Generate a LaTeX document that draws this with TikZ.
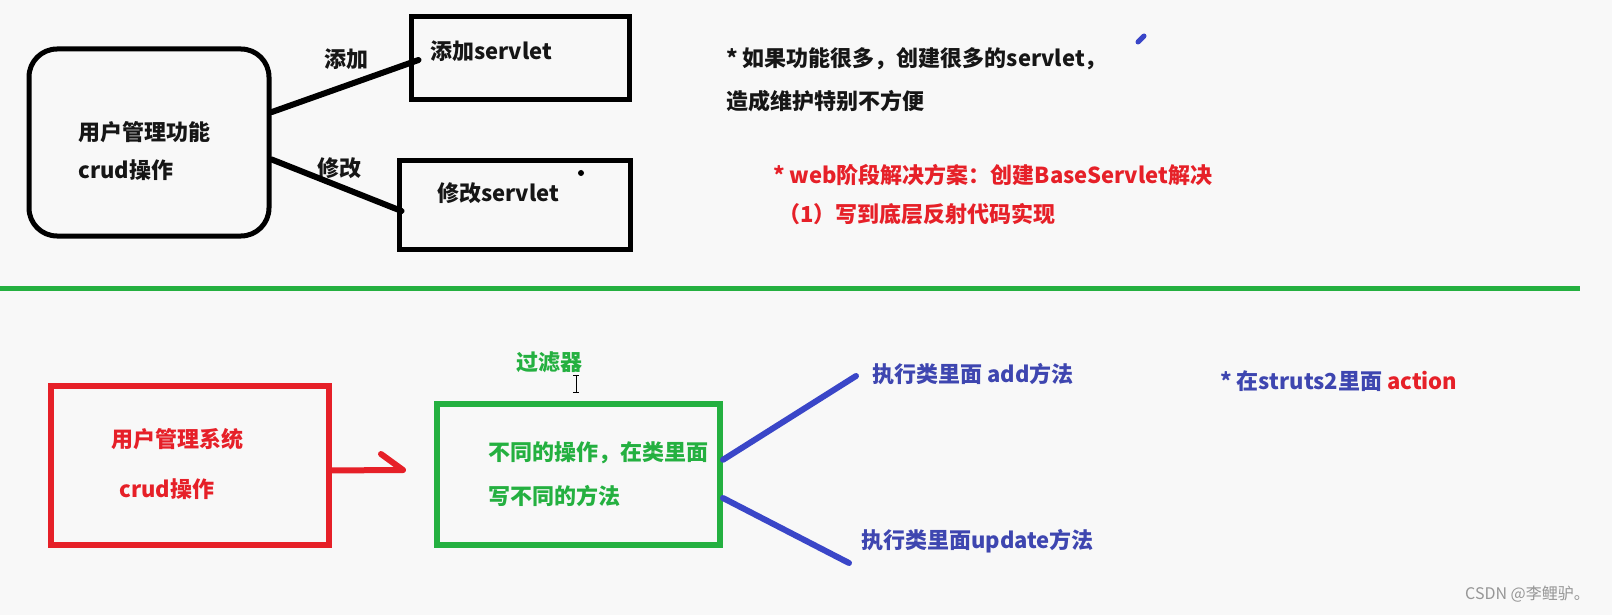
\documentclass[tikz,border=0pt]{standalone}
\usepackage{fontspec}
\usetikzlibrary{calc}
\newfontfamily\cjk{Noto Sans CJK SC}
\definecolor{bg}{RGB}{248,248,248}
\definecolor{myred}{RGB}{230,32,40}
\definecolor{mygreen}{RGB}{36,176,64}
\definecolor{myblue}{RGB}{58,70,200}
\definecolor{txtblue}{RGB}{62,70,176}
\definecolor{txtblack}{RGB}{22,22,22}
\definecolor{wmgray}{RGB}{150,150,150}
\begin{document}
\begin{tikzpicture}[x=1pt,y=-1pt,
  lbl/.style={font=\cjk\bfseries\fontsize{22}{26}\selectfont, inner sep=0pt, anchor=west, text=txtblack},
  ctr/.style={lbl, anchor=center},
  boxk/.style={draw=black, line width=5pt, inner sep=0pt, rectangle},
  boxr/.style={draw=myred, line width=6pt, inner sep=0pt, rectangle},
  boxg/.style={draw=mygreen, line width=6pt, inner sep=0pt, rectangle},
  wire/.style={line width=6pt, line cap=round},
  bwire/.style={draw=myblue, line width=6pt, line cap=round}]
\fill[bg] (0,0) rectangle (1612,615);
\useasboundingbox (0,0) rectangle (1612,615);

% ---------- top part ----------
\node[boxk, rounded corners=28pt, minimum width=240pt, minimum height=187pt] (crud) at (149,142.5) {};
\node[boxk, minimum width=218pt, minimum height=83pt] (addbox) at (520,58.5) {};
\node[boxk, minimum width=231pt, minimum height=88pt] (modbox) at (514.5,205) {};

\node[lbl] (t1) at (78,132) {用户管理功能};
\node[lbl] (t2) at (78,170) {crud操作};
\node[lbl] (addtxt) at (430,51) {添加servlet};
\node[lbl] (modtxt) at (437,193) {修改servlet};
\node[ctr] (addlbl) at (346,59) {添加};
\node[ctr] (modlbl) at (339,168) {修改};

\draw[wire] ($(crud.north east)!0.342!(crud.south east)$) -- ($(addbox.west)+(10,1.5)$);
\draw[wire] ($(crud.north east)!0.588!(crud.south east)$) -- ($(modbox.west)+(5,6)$);

\fill[black] (581,173) circle (3pt);
\draw[myblue, line width=5pt, line cap=round] (1138,42) -- (1144,36);

\node[lbl] (n1) at (726,59) {* 如果功能很多，创建很多的servlet，};
\node[lbl] (n2) at (726,101) {造成维护特别不方便};
\node[lbl, text=myred] (r1) at (773,175) {* web阶段解决方案：创建BaseServlet解决};
\node[lbl, text=myred] (r2) at (778,214) {（1）写到底层反射代码实现};

% ---------- separator ----------
\draw[mygreen, line width=5pt] (0,288) -- (1580,288);

% ---------- bottom part ----------
\node[boxr, minimum width=278pt, minimum height=159pt] (redbox) at (190,465.5) {};
\node[boxg, minimum width=283pt, minimum height=141pt] (greenbox) at (578.5,474.5) {};

\node[ctr, text=mygreen] (filter) at (549,362) {过滤器};
\draw[black, line width=0.9pt] (576,375) -- (576,392) (573,375) -- (579,375) (573,392) -- (579,392);

\node[lbl, text=myred] (rb1) at (111,439) {用户管理系统};
\node[lbl, text=myred] (rb2) at (119,489) {crud操作};
\node[lbl, text=mygreen] (gb1) at (488,453) {不同的操作，在类里面};
\node[lbl, text=mygreen] (gb2) at (488,496) {写不同的方法};

\coordinate (tip) at ($(greenbox.west)+(-31,-4.5)$);
\draw[myred, line width=6pt, line join=round, line cap=round]
  ($(redbox.north east)!0.53!(redbox.south east)$) -- (tip) -- ++(-22,-16);

\node[lbl, text=txtblue] (bl1) at (872,374) {执行类里面 add方法};
\node[lbl, text=txtblue] (bl2) at (861,541) {执行类里面update方法};
\draw[bwire] ($(greenbox.north east)!0.40!(greenbox.south east)$) -- ($(bl1.west)+(-16,2)$);
\draw[bwire] ($(greenbox.north east)!0.66!(greenbox.south east)$) -- ($(bl2.west)+(-12,22)$);

\node[lbl, text=txtblue] (st) at (1220,381) {* 在struts2里面 \textcolor{myred}{action}};

\node[anchor=west, inner sep=0pt, font=\cjk\fontsize{16}{19}\selectfont, text=wmgray] (wm) at (1465,594) {CSDN @李鲤驴。};
\end{tikzpicture}
\end{document}
